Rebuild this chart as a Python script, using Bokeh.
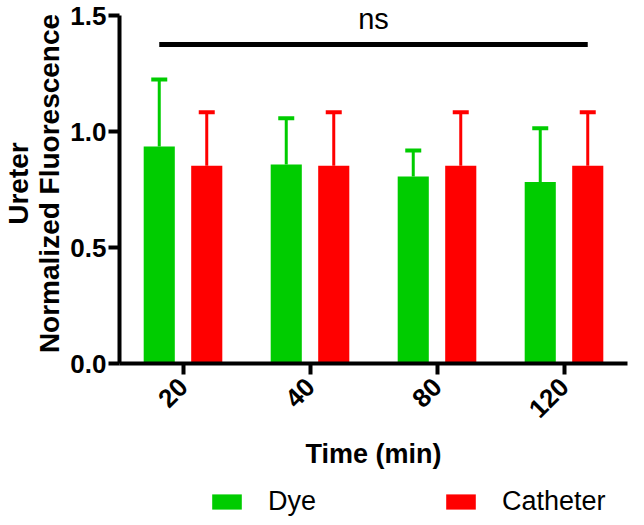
import math
from bokeh.plotting import figure
from bokeh.layouts import column
from bokeh.models import (Range1d, FixedTicker, ColumnDataSource, Whisker, TeeHead,
                          Legend, LegendItem, Label, NumeralTickFormatter)
from bokeh.embed import file_html
from bokeh.resources import INLINE

# ---- data ----
times = ["20", "40", "80", "120"]
dye_mean = [0.935, 0.858, 0.806, 0.783]
dye_err = [0.289, 0.199, 0.112, 0.231]
cath_mean = [0.853, 0.853, 0.853, 0.853]
cath_err = [0.230, 0.230, 0.230, 0.230]
series_names = ["Dye", "Catheter"]
y_ticks = [0.0, 0.5, 1.0, 1.5]
sig_level = 1.375
sig_text = "ns"

# ---- style ----
GREEN = "#00CC00"
RED = "#FF0000"
FONT = "Liberation Sans"
OFF = 0.187
W = 0.245

idx = list(range(len(times)))
dye_src = ColumnDataSource(dict(
    x=[i - OFF for i in idx], top=dye_mean,
    upper=[m + e for m, e in zip(dye_mean, dye_err)]))
cath_src = ColumnDataSource(dict(
    x=[i + OFF for i in idx], top=cath_mean,
    upper=[m + e for m, e in zip(cath_mean, cath_err)]))

p = figure(width=628, height=476, output_backend="svg", toolbar_location=None,
           x_range=Range1d(-0.5, len(times) - 0.5), y_range=Range1d(0, 1.552),
           min_border_top=3, min_border_right=1, min_border_left=107, min_border_bottom=113)
p.outline_line_color = None
p.grid.visible = False
p.background_fill_color = "white"

p.vbar(x="x", top="top", width=W, source=dye_src, fill_color=GREEN, line_color=None)
p.vbar(x="x", top="top", width=W, source=cath_src, fill_color=RED, line_color=None)

for src, col in ((dye_src, GREEN), (cath_src, RED)):
    wk = Whisker(base="x", lower="top", upper="upper", source=src,
                 line_color=col, line_width=3, lower_head=None,
                 upper_head=TeeHead(size=16, line_color=col, line_width=4))
    p.add_layout(wk)

# significance bar
x0 = idx[0] - OFF
x1 = idx[-1] + OFF
p.segment(x0=[x0], y0=[sig_level], x1=[x1], y1=[sig_level], line_color="black", line_width=5)
p.add_layout(Label(x=(x0 + x1) / 2, y=sig_level, y_offset=26, text=sig_text,
                   text_align="center", text_baseline="alphabetic",
                   text_font=FONT, text_font_size="29px", text_color="black"))

# axes
for ax in (p.xaxis[0], p.yaxis[0]):
    ax.axis_line_width = 4
    ax.axis_line_color = "black"
    ax.major_tick_line_width = 4
    ax.major_tick_line_color = "black"
    ax.major_tick_in = 0
    ax.major_tick_out = 11
    ax.minor_tick_line_color = None
    ax.major_label_text_font = FONT
    ax.major_label_text_font_style = "bold"
    ax.major_label_text_font_size = "26px"
    ax.major_label_text_color = "black"
    ax.axis_label_text_font = FONT
    ax.axis_label_text_font_style = "bold"
    ax.axis_label_text_color = "black"

p.yaxis.ticker = FixedTicker(ticks=y_ticks)
p.yaxis.bounds = (y_ticks[0], y_ticks[-1])
p.yaxis.formatter = NumeralTickFormatter(format="0.0")
p.yaxis.major_label_standoff = 2
p.yaxis.axis_label = "Ureter\nNormalized Fluorescence"
p.yaxis.axis_label_text_font_size = "28px"
p.yaxis.axis_label_text_line_height = 1.0
p.yaxis.axis_label_standoff = 2

p.xaxis.ticker = FixedTicker(ticks=idx)
p.xaxis.major_label_overrides = {i: t for i, t in zip(idx, times)}
p.xaxis.major_label_orientation = math.pi / 4
p.xaxis.major_label_standoff = 8
p.xaxis.axis_label = "Time (min)"
p.xaxis.axis_label_text_font_size = "27px"
p.xaxis.axis_label_standoff = 10

# legend strip below the chart (same data sources; bars fall outside its view)
leg = figure(width=628, height=41, output_backend="svg", toolbar_location=None,
             x_range=Range1d(0, 1), y_range=Range1d(10, 11),
             x_axis_location=None, y_axis_location=None,
             min_border_top=0, min_border_bottom=0, min_border_left=0, min_border_right=0)
leg.outline_line_color = None
leg.grid.visible = False
l_dye = leg.vbar(x="x", top="top", width=W, source=dye_src, fill_color=GREEN, line_color=None)
l_cath = leg.vbar(x="x", top="top", width=W, source=cath_src, fill_color=RED, line_color=None)

legend = Legend(items=[LegendItem(label=series_names[0], renderers=[l_dye]),
                       LegendItem(label=series_names[1], renderers=[l_cath])],
                orientation="horizontal", glyph_width=37, glyph_height=19,
                label_standoff=23, spacing=126, label_text_font=FONT,
                label_text_font_size="27px", label_text_color="black",
                border_line_color=None, padding=0, margin=0,
                location=(89, 0), background_fill_alpha=0)
leg.add_layout(legend)

open("out.html", "w").write(file_html(column(p, leg, spacing=0), INLINE))
